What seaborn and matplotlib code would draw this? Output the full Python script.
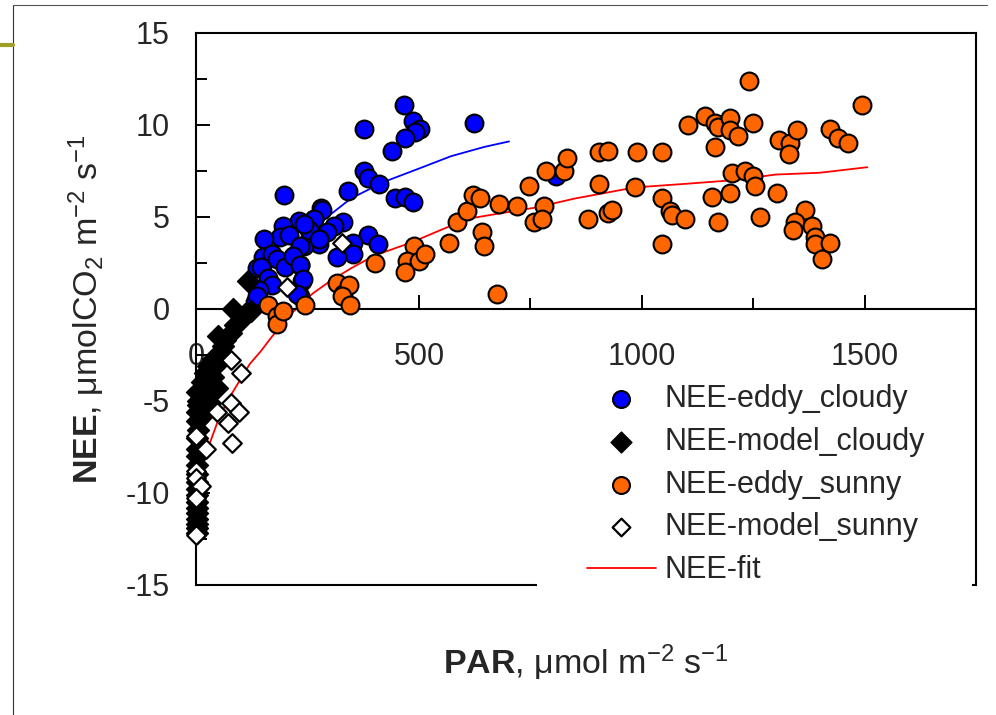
import numpy as np
import pandas as pd
import matplotlib.pyplot as plt
import seaborn as sns
from matplotlib.lines import Line2D
from matplotlib.patches import Rectangle
from matplotlib.ticker import MultipleLocator

# values (PAR, NEE)
eddy_cloudy_par = [466, 486, 502, 491, 468, 439, 376, 624, 376, 385, 410, 340, 446, 468, 486,
                   281, 264, 329, 309, 294, 275, 275, 385, 407, 351, 351, 317, 241, 234, 238,
                   234, 198, 283, 230, 264, 252, 241, 194, 187, 153, 209, 232, 275, 149, 171,
                   182, 200, 218, 234, 137, 146, 162, 169, 140, 239, 227, 133, 137, 808]
eddy_cloudy_nee = [11.1, 10.2, 9.8, 9.6, 9.3, 8.6, 9.8, 10.1, 7.5, 7.1, 6.8, 6.4, 6.0, 6.1, 5.8,
                   5.5, 4.9, 4.7, 4.5, 4.2, 3.8, 3.5, 4.0, 3.5, 3.6, 3.0, 2.8, 3.4, 2.4, 1.5,
                   0.7, 6.2, 5.4, 4.8, 4.9, 4.3, 4.6, 4.5, 3.9, 3.8, 4.0, 3.4, 3.8, 2.8, 3.0,
                   2.7, 2.3, 2.9, 2.4, 2.2, 2.3, 1.7, 1.3, 1.0, 1.6, 0.8, 0.4, 0.7, 7.2]

model_cloudy_par = [117, 83, 110, 122, 95, 88, 77, 50, 65, 60, 38, 27, 47, 20, 38, 14, 32, 47,
                    2, 16, 3, 5, 32, 2, 10, 1, 3, 1, 2, 1, 2, 1, 1, 2, 1, 1, 1, 1, 1, 1, 1, 1]
model_cloudy_nee = [1.5, 0.0, -0.3, -0.1, -0.7, -0.9, -1.3, -1.5, -1.7, -2.0, -2.7, -3.1, -3.0,
                    -3.5, -3.7, -4.0, -4.2, -4.3, -4.5, -4.8, -5.0, -5.2, -5.1, -5.6, -5.9, -6.1,
                    -6.6, -7.0, -7.6, -8.0, -8.5, -9.0, -9.4, -9.8, -10.1, -10.5, -10.8, -11.1,
                    -11.4, -11.7, -11.9, -12.2]

eddy_sunny_par = [162, 182, 182, 194, 245, 317, 329, 342, 328, 344, 401, 489, 473, 500, 513,
                  468, 567, 585, 608, 621, 637, 642, 646, 675, 680, 720, 747, 786, 781, 759,
                  777, 826, 833, 903, 923, 903, 880, 923, 934, 988, 984, 1045, 1045, 1063, 1067,
                  1096, 1045, 1103, 1141, 1164, 1171, 1198, 1198, 1216, 1164, 1240, 1249, 1157,
                  1171, 1198, 1202, 1231, 1249, 1254, 1265, 1303, 1308, 1333, 1330, 1348, 1366,
                  1344, 1339, 1382, 1389, 1389, 1405, 1423, 1423, 1441, 1463, 1495]
eddy_sunny_nee = [0.2, -0.4, -0.8, -0.1, 0.2, 1.4, 0.8, 1.3, 0.7, 0.2, 2.5, 3.4, 2.6, 2.6, 3.0,
                  2.0, 3.6, 4.7, 5.3, 6.2, 6.0, 4.2, 3.4, 0.8, 5.7, 5.6, 6.7, 7.5, 5.6, 4.7,
                  4.9, 7.5, 8.2, 8.5, 8.6, 6.8, 4.9, 5.2, 5.4, 8.5, 6.6, 8.5, 6.0, 5.3, 5.1,
                  4.9, 3.5, 10.0, 10.5, 10.1, 9.9, 10.4, 9.7, 9.4, 8.8, 12.4, 10.1, 6.1,
                  4.7, 6.3, 7.4, 7.5, 7.2, 6.7, 5.0, 6.3, 9.2, 9.0, 8.4, 9.7, 5.4,
                  4.7, 4.3, 4.5, 3.9, 3.5, 2.7, 3.6, 9.8, 9.3, 9.0, 11.1]

model_sunny_par = [203, 328, 77, 101, 77, 95, 47, 72, 81, 0, 23, 0, 0, 11, 0, 0]
model_sunny_nee = [1.2, 3.6, -2.8, -3.5, -5.1, -5.6, -5.6, -6.2, -7.3, -6.9, -7.6, -8.8, -9.2,
                   -9.6, -10.3, -12.3]

fit_sunny_par = [5, 10, 20, 32, 50, 70, 95, 120, 145, 167, 200, 240, 265, 300, 347, 400, 482,
                 550, 610, 684, 760, 850, 984, 1100, 1209, 1300, 1400, 1506]
fit_sunny_nee = [-9.5, -8.8, -8.0, -7.2, -6.0, -5.0, -4.0, -3.0, -2.3, -1.6, -0.6, 0.4, 0.9,
                 1.5, 2.2, 2.9, 3.6, 4.3, 4.9, 5.2, 5.5, 6.0, 6.6, 6.8, 7.0, 7.3, 7.4, 7.7]

fit_cloudy_par = [10, 36, 58, 90, 122, 171, 230, 284, 347, 421, 497, 572, 646, 702]
fit_cloudy_nee = [-4.6, -3.4, -2.4, -0.9, 0.5, 2.3, 3.8, 4.8, 6.0, 6.9, 7.6, 8.3, 8.8, 9.1]

sns.set_theme(style='white')
plt.rcParams['font.family'] = ['Liberation Sans', 'DejaVu Sans']
plt.rcParams['mathtext.fontset'] = 'custom'
plt.rcParams['mathtext.rm'] = 'Liberation Sans'
plt.rcParams['mathtext.bf'] = 'Liberation Sans:bold'
plt.rcParams['mathtext.it'] = 'Liberation Sans:italic'
plt.rcParams['axes.unicode_minus'] = False

fig = plt.figure(figsize=(9.96, 7.15), dpi=100)
ax = fig.add_axes([0.197, 0.182, 0.783, 0.772])

# fit curves under the points
sns.lineplot(x=fit_cloudy_par, y=fit_cloudy_nee, color='#0000ff', lw=1.3, estimator=None,
             sort=False, ax=ax, zorder=2)
sns.lineplot(x=fit_sunny_par, y=fit_sunny_nee, color='red', lw=1.3, estimator=None,
             sort=False, ax=ax, zorder=2, label='NEE-fit')

sns.scatterplot(x=eddy_cloudy_par, y=eddy_cloudy_nee, marker='o', s=165, color='#0000ff',
                edgecolor='black', linewidth=1.5, ax=ax, zorder=3, clip_on=False,
                label='NEE-eddy_cloudy')
sns.scatterplot(x=model_cloudy_par, y=model_cloudy_nee, marker='D', s=125, color='black',
                edgecolor='black', linewidth=1.0, ax=ax, zorder=3, clip_on=False,
                label='NEE-model_cloudy')
sns.scatterplot(x=eddy_sunny_par, y=eddy_sunny_nee, marker='o', s=165, color='#ff6600',
                edgecolor='black', linewidth=1.5, ax=ax, zorder=3, clip_on=False,
                label='NEE-eddy_sunny')
sns.scatterplot(x=model_sunny_par, y=model_sunny_nee, marker='D', s=90, color='white',
                edgecolor='black', linewidth=1.6, ax=ax, zorder=3, clip_on=False,
                label='NEE-model_sunny')

ax.set_xlim(0, 1750)
ax.set_ylim(-15, 15)
ax.xaxis.set_major_locator(MultipleLocator(500))
ax.xaxis.set_minor_locator(MultipleLocator(250))
ax.yaxis.set_major_locator(MultipleLocator(5))
ax.yaxis.set_minor_locator(MultipleLocator(2.5))

for s in ax.spines.values():
    s.set_color('black')
    s.set_linewidth(1.5)
ax.spines['bottom'].set_position(('data', 0))
ax.plot([0, 1], [0, 0], transform=ax.transAxes, color='black', lw=1.5, clip_on=False, zorder=2.5)

ax.tick_params(axis='both', which='both', direction='in', color='black', width=1.4,
               labelsize=22, bottom=True, left=True, top=False, right=False)
ax.tick_params(which='major', length=10)
ax.tick_params(which='minor', length=8)
ax.tick_params(axis='x', pad=24)
ax.tick_params(axis='y', pad=19)

ax.set_xlabel(r'$\mathbf{PAR}$, μmol m$^{-2}$ s$^{-1}$', fontsize=24.5)
ax.set_ylabel(r'$\mathbf{NEE}$, μmolCO$_2$ m$^{-2}$ s$^{-1}$', fontsize=24.5)
ax.xaxis.set_label_coords(0.5, -0.105)
ax.yaxis.set_label_coords(-0.115, 0.5)

# white block under the legend
ax.add_artist(Rectangle((537 / 996, 1 - 595 / 715), 435 / 996, 225 / 715,
                        transform=fig.transFigure, facecolor='white', edgecolor='none',
                        zorder=4, clip_on=False))

handles, labels = ax.get_legend_handles_labels()
order = ['NEE-eddy_cloudy', 'NEE-model_cloudy', 'NEE-eddy_sunny', 'NEE-model_sunny', 'NEE-fit']
lookup = dict(zip(labels, handles))
leg = ax.legend([lookup[k] for k in order], order, loc='upper left',
                bbox_to_anchor=(587 / 996, 1 - 384 / 715), bbox_transform=fig.transFigure,
                frameon=False, fontsize=22, handlelength=2.25, handletextpad=0.3,
                labelspacing=0.42, borderpad=0, borderaxespad=0, markerscale=0.95)
leg.set_zorder(5)

# slide frame bits
fig.add_artist(Line2D([13 / 996, 13 / 996], [0, 1 - 5 / 715], transform=fig.transFigure,
                      color='#333333', lw=0.8))
fig.add_artist(Line2D([13 / 996, 987 / 996], [1 - 5 / 715, 1 - 5 / 715],
                      transform=fig.transFigure, color='#555555', lw=0.8))
fig.add_artist(Line2D([0, 13 / 996], [1 - 45 / 715, 1 - 45 / 715], transform=fig.transFigure,
                      color='#a0a028', lw=3))

fig.savefig('out.png', dpi=100)
